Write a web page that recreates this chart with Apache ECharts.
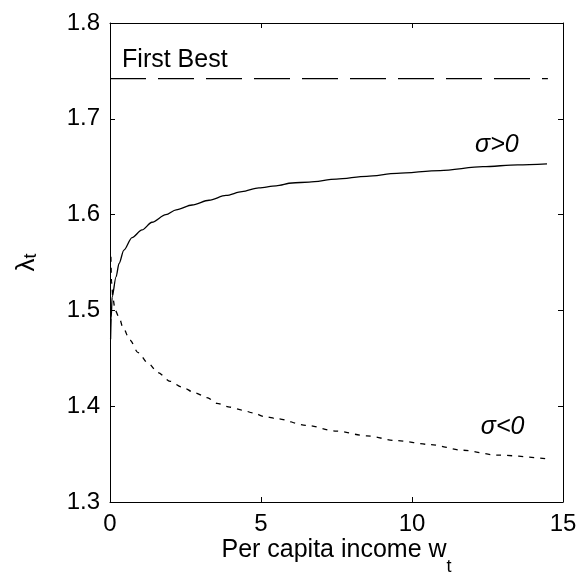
<!DOCTYPE html>
<html>
<head>
<meta charset="utf-8">
<script src="https://cdn.jsdelivr.net/npm/echarts@6/dist/echarts.min.js"></script>
<style>
  html, body { margin: 0; padding: 0; background: #fff; }
  #chart { width: 579px; height: 579px; }
</style>
</head>
<body>
<div id="chart"></div>
<script>
const FONT = '"Liberation Sans", Arial, Helvetica, sans-serif';

// Axis ranges and ticks
const xTicks = [0, 5, 10, 15];
const yTicks = [1.3, 1.4, 1.5, 1.6, 1.7, 1.8];

// First-best benchmark level and its horizontal extent
const firstBestLevel = 1.742;
const firstBestRange = [0, 14.5];

// lambda_t path when sigma > 0
const posW = [0.02, 0.04, 0.07, 0.2, 0.3, 0.46, 0.73, 1.06, 1.39, 1.85, 2.19, 2.72, 3.28, 3.84, 4.37, 4.93, 5.5, 6.03, 6.59, 7.5, 8.5, 9.5, 10.93, 12.35, 13.5, 14.47];
const posLambda = [1.470, 1.492, 1.514, 1.535, 1.549, 1.563, 1.576, 1.584, 1.592, 1.600, 1.605, 1.610, 1.615, 1.620, 1.624, 1.628, 1.630, 1.633, 1.634, 1.637, 1.640, 1.643, 1.646, 1.650, 1.652, 1.653];

// lambda_t path when sigma < 0
const negW = [0.03, 0.05, 0.1, 0.17, 0.3, 0.43, 0.66, 0.93, 1.26, 1.59, 1.99, 2.38, 2.81, 3.21, 3.54, 3.97, 4.37, 4.74, 5.13, 5.53, 6.5, 7.5, 8.5, 9.5, 10.6, 11.69, 12.81, 14.47];
const negLambda = [1.556, 1.530, 1.512, 1.500, 1.493, 1.482, 1.469, 1.456, 1.445, 1.435, 1.426, 1.420, 1.414, 1.409, 1.403, 1.399, 1.396, 1.393, 1.389, 1.387, 1.380, 1.374, 1.369, 1.364, 1.360, 1.354, 1.349, 1.345];

// In-plot annotations: [x, y, text, font style]
const notes = [
  [0.4, 1.7614, 'First Best', 'normal'],
  [12.09, 1.673, 'σ>0', 'italic'],
  [12.28, 1.378, 'σ<0', 'italic']
];

const zip = (xs, ys) => xs.map((x, i) => [x, ys[i]]);

const chart = echarts.init(document.getElementById('chart'), null, { renderer: 'canvas' });

const axisCommon = {
  type: 'value',
  axisLine: { show: true, onZero: false, lineStyle: { color: '#000', width: 1 } },
  axisTick: { show: true, inside: true, length: 5, lineStyle: { color: '#000', width: 1 } },
  splitLine: { show: false },
  axisLabel: { color: '#000', fontFamily: FONT, fontSize: 24, margin: 10 }
};

const option = {
  animation: false,
  backgroundColor: '#fff',
  grid: { left: 110, right: 16, top: 23, bottom: 77, containLabel: false, outerBoundsMode: 'none' },
  xAxis: [
    Object.assign({}, axisCommon, {
      min: xTicks[0], max: xTicks[xTicks.length - 1], interval: 5, position: 'bottom',
      axisLabel: Object.assign({}, axisCommon.axisLabel, { showMinLabel: true, showMaxLabel: true })
    }),
    Object.assign({}, axisCommon, {
      min: xTicks[0], max: xTicks[xTicks.length - 1], interval: 5, position: 'top',
      axisLabel: { show: false }
    })
  ],
  yAxis: [
    Object.assign({}, axisCommon, {
      min: yTicks[0], max: yTicks[yTicks.length - 1], interval: 0.1, position: 'left',
      name: '{a|λ}{b|t}',
      nameLocation: 'middle',
      nameRotate: 90,
      nameGap: 70,
      nameTextStyle: {
        color: '#000', fontFamily: FONT,
        rich: {
          a: { fontSize: 26, fontFamily: FONT, color: '#000', verticalAlign: 'top', lineHeight: 26 },
          b: { fontSize: 18, fontFamily: FONT, color: '#000', verticalAlign: 'bottom', lineHeight: 18, padding: [16, 0, 0, 0] }
        }
      },
      axisLabel: Object.assign({}, axisCommon.axisLabel, {
        showMinLabel: true, showMaxLabel: true,
        formatter: v => v.toFixed(1)
      })
    }),
    Object.assign({}, axisCommon, {
      min: yTicks[0], max: yTicks[yTicks.length - 1], interval: 0.1, position: 'right',
      axisLabel: { show: false }
    })
  ],
  series: [
    {
      name: 'First Best', type: 'line', showSymbol: false, silent: true,
      data: firstBestRange.map(x => [x, firstBestLevel]),
      lineStyle: { color: '#000', width: 1.2, type: [36, 12] }
    },
    {
      name: 'sigma>0', type: 'line', showSymbol: false, silent: true,
      smooth: 0.3, smoothMonotone: 'x',
      data: zip(posW, posLambda),
      lineStyle: { color: '#000', width: 1.3, type: 'solid' }
    },
    {
      name: 'sigma<0', type: 'line', showSymbol: false, silent: true,
      smooth: 0.3, smoothMonotone: 'x',
      data: zip(negW, negLambda),
      lineStyle: { color: '#000', width: 1.3, type: [5, 6] }
    }
  ]
};

chart.setOption(option);

// Text measurement for composing subscripted labels
const measure = (() => {
  const ctx = document.createElement('canvas').getContext('2d');
  return (text, size, style) => {
    ctx.font = (style || '') + ' ' + size + 'px ' + FONT;
    return ctx.measureText(text).width;
  };
})();

const graphics = [];

notes.forEach(([x, y, text, style]) => {
  const p = chart.convertToPixel({ xAxisIndex: 0, yAxisIndex: 0 }, [x, y]);
  graphics.push({
    type: 'text', x: p[0], y: p[1], silent: true,
    style: {
      text: text, fill: '#000', font: style + ' 25px ' + FONT,
      textAlign: 'left', textVerticalAlign: 'middle'
    }
  });
});

// x-axis title: "Per capita income w" with subscript t
const xMain = 'Per capita income w';
const mainSize = 25, subSize = 18;
const x0 = chart.convertToPixel({ xAxisIndex: 0 }, 0);
const x1 = chart.convertToPixel({ xAxisIndex: 0 }, 15);
const mainW = measure(xMain, mainSize);
const subW = measure('t', subSize);
const startX = (x0 + x1) / 2 - (mainW + subW) / 2;
graphics.push({
  type: 'text', x: startX, y: 550, silent: true,
  style: { text: xMain, fill: '#000', font: mainSize + 'px ' + FONT, textAlign: 'left', textVerticalAlign: 'middle' }
});
graphics.push({
  type: 'text', x: startX + mainW, y: 567, silent: true,
  style: { text: 't', fill: '#000', font: subSize + 'px ' + FONT, textAlign: 'left', textVerticalAlign: 'middle' }
});

chart.setOption({ graphic: graphics });
</script>
</body>
</html>
